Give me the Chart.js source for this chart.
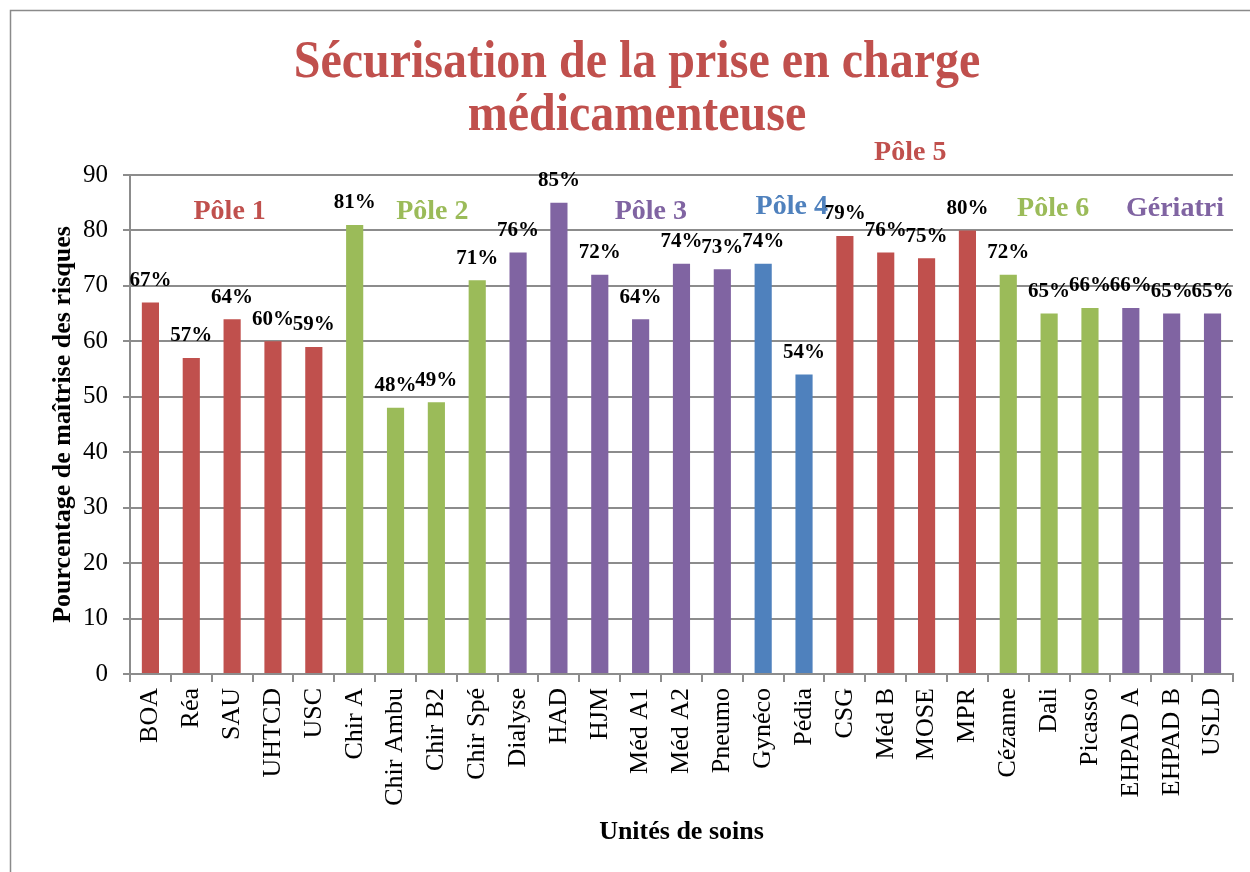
<!DOCTYPE html>
<html lang="fr">
<head>
<meta charset="utf-8">
<title>Sécurisation de la prise en charge médicamenteuse</title>
<script src="https://cdn.jsdelivr.net/npm/chart.js@4.4.1/dist/chart.umd.min.js"></script>
<style>
    body { margin: 0; background: #fff; }
    canvas { display: block; }
</style>
</head>
<body>
<canvas id="securisationChart" width="1250" height="872"></canvas>
<script>
// unités de soins, dans l'ordre du graphique
const units = ['BOA', 'Réa', 'SAU', 'UHTCD', 'USC', 'Chir A', 'Chir Ambu', 'Chir B2', 'Chir Spé',
    'Dialyse', 'HAD', 'HJM', 'Méd A1', 'Méd A2', 'Pneumo', 'Gynéco', 'Pédia',
    'CSG', 'Méd B', 'MOSE', 'MPR', 'Cézanne', 'Dali', 'Picasso', 'EHPAD A', 'EHPAD B', 'USLD'];

// pourcentage de maîtrise des risques
const scores = [67, 57, 64, 60, 59, 81, 48, 49, 71,
    76, 85, 72, 64, 74, 73, 74, 54,
    79, 76, 75, 80, 72, 65, 66, 66, 65, 65];

// pôle de rattachement de chaque unité (index dans poleNames)
const unitPole = [0, 0, 0, 0, 0, 1, 1, 1, 1,
    2, 2, 2, 2, 2, 2, 3, 3,
    4, 4, 4, 4, 5, 5, 5, 6, 6, 6];

const poleNames = ['Pôle 1', 'Pôle 2', 'Pôle 3', 'Pôle 4', 'Pôle 5', 'Pôle 6', 'Gériatri'];
const yTicks = [0, 10, 20, 30, 40, 50, 60, 70, 80, 90];
const titleLines = ['Sécurisation de la prise en charge', 'médicamenteuse'];

// styles / placement des étiquettes de pôle (position en index de catégorie et valeur)
const poleColors = ['#C0504D', '#9BBB59', '#8064A2', '#4F81BD', '#C0504D', '#9BBB59', '#8064A2'];
const poleLabelAt = [[1.94, 83.3], [6.9, 83.3], [12.25, 83.3], [15.7, 84.2], [18.6, 94.0], [22.1, 84.0], [25.08, 84.0]];

const SERIF = '"Liberation Serif", "Times New Roman", serif';
const GRID = '#8c8c8c';

const frameAndLabels = {
    id: 'frameAndLabels',
    beforeDraw(chart) {
        const ctx = chart.ctx;
        ctx.save();
        ctx.fillStyle = '#fff';
        ctx.fillRect(0, 0, chart.width, chart.height);
        ctx.strokeStyle = '#8a8a8a';
        ctx.lineWidth = 1.5;
        ctx.strokeRect(10.5, 10.5, chart.width + 20, chart.height + 20);

        // titre (légèrement étiré en hauteur comme l'original)
        ctx.fillStyle = '#C0504D';
        ctx.font = 'bold 48px ' + SERIF;
        ctx.textAlign = 'center';
        ctx.textBaseline = 'alphabetic';
        titleLines.forEach((line, i) => {
            ctx.save();
            ctx.translate(637, 77 + i * 53);
            ctx.scale(1, 1.08);
            ctx.fillText(line, 0, 0);
            ctx.restore();
        });
        ctx.restore();
    },
    afterDatasetsDraw(chart) {
        const ctx = chart.ctx;
        const xScale = chart.scales.x;
        const yScale = chart.scales.y;
        ctx.save();
        ctx.textAlign = 'center';
        ctx.textBaseline = 'middle';

        // valeurs au-dessus des barres
        ctx.fillStyle = '#000';
        ctx.font = 'bold 21px ' + SERIF;
        chart.getDatasetMeta(0).data.forEach((bar, i) => {
            ctx.fillText(scores[i] + '%', bar.x, bar.y - 22);
        });

        // noms des pôles
        ctx.font = 'bold 28px ' + SERIF;
        poleNames.forEach((name, i) => {
            const [idx, val] = poleLabelAt[i];
            ctx.fillStyle = poleColors[i];
            ctx.fillText(name, xScale.getPixelForValue(idx), yScale.getPixelForValue(val));
        });
        ctx.restore();
    }
};

new Chart(document.getElementById('securisationChart'), {
    type: 'bar',
    data: {
        labels: units,
        datasets: [{
            data: scores,
            backgroundColor: unitPole.map(p => poleColors[p]),
            barPercentage: 0.42,
            categoryPercentage: 1.0
        }]
    },
    options: {
        responsive: false,
        animation: false,
        layout: { padding: { left: 0, right: 15, top: 175, bottom: 0 } },
        plugins: {
            legend: { display: false },
            tooltip: { enabled: false },
            title: { display: false }
        },
        scales: {
            x: {
                afterFit(scale) { scale.height = 198; },
                grid: { drawOnChartArea: false, drawTicks: true, tickLength: 8, color: GRID, lineWidth: 2 },
                border: { display: true, color: GRID, width: 2 },
                ticks: {
                    color: '#000',
                    font: { family: SERIF, size: 26 },
                    minRotation: 90,
                    maxRotation: 90,
                    autoSkip: false,
                    padding: 6
                },
                title: {
                    display: true,
                    text: 'Unités de soins',
                    color: '#000',
                    font: { family: SERIF, size: 26, weight: 'bold', lineHeight: 1.2 },
                    padding: { top: 0, bottom: 24 }
                }
            },
            y: {
                min: 0,
                max: 90,
                afterFit(scale) { scale.width = 130; },
                afterBuildTicks(scale) { scale.ticks = yTicks.map(v => ({ value: v })); },
                grid: { color: GRID, lineWidth: 2, tickLength: 7 },
                border: { display: true, color: GRID, width: 2 },
                ticks: {
                    color: '#000',
                    font: { family: SERIF, size: 25 },
                    padding: 15
                },
                title: {
                    display: true,
                    text: 'Pourcentage de maîtrise des risques',
                    color: '#000',
                    font: { family: SERIF, size: 26, weight: 'bold', lineHeight: 1.2 },
                    padding: { top: 48, bottom: 0 }
                }
            }
        }
    },
    plugins: [frameAndLabels]
});
</script>
</body>
</html>
